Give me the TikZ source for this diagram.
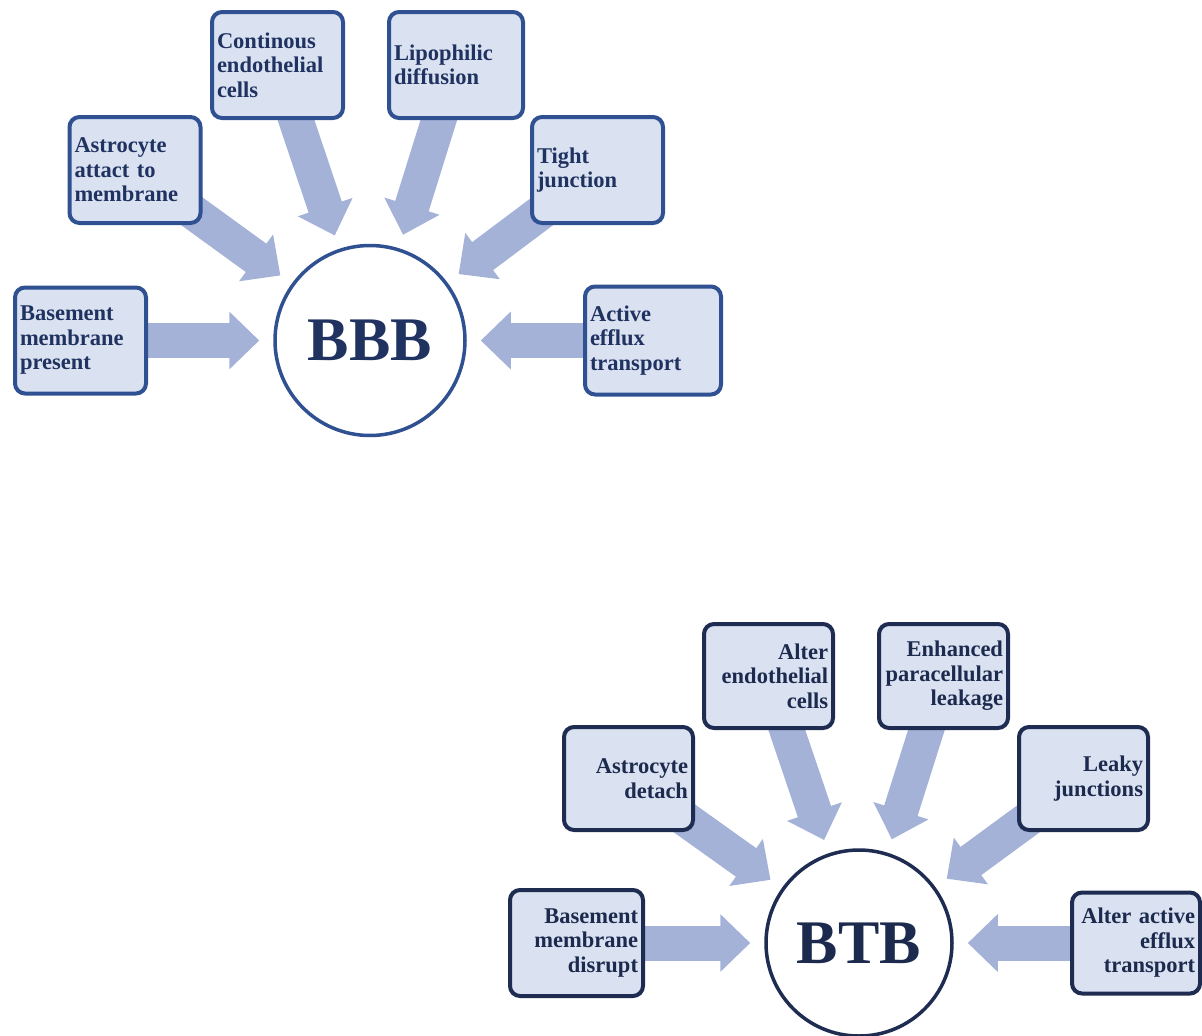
\documentclass[tikz,border=0pt]{standalone}
\usepackage{fontspec}
\setmainfont{Liberation Serif}
\usetikzlibrary{arrows.meta,backgrounds}
\definecolor{boxfill}{HTML}{DAE2F2}
\definecolor{bbbline}{HTML}{2F5091}
\definecolor{btbline}{HTML}{1E2C52}
\definecolor{txt}{HTML}{1F3260}
\definecolor{txtdark}{HTML}{1C2A4E}
\definecolor{arr}{HTML}{A4B2D8}
\begin{document}
\begin{tikzpicture}[x=1pt,y=-1pt,
  lbox/.style={draw=bbbline, fill=boxfill, line width=4pt, rounded corners=10pt,
    minimum height=106pt, text width=121pt, inner xsep=5pt, inner ysep=0pt, align=left,
    font=\fontsize{22.5}{24.5}\selectfont\bfseries, text=txt},
  rbox/.style={lbox, draw=btbline, align=right, text=txtdark},
  hub/.style={circle, draw=bbbline, fill=white, line width=3.5pt, minimum size=190pt,
    inner sep=0pt, font=\fontsize{62}{70}\selectfont\bfseries, text=txt},
  flow/.style={draw=arr, line width=35pt, -{Triangle[width=56pt,length=30pt]}, shorten >=14pt}
]
\useasboundingbox (0,0) rectangle (1202,1036);

% ---------- BBB ----------
\node[hub] (bbb) at (370,340.5) {BBB};
\node[lbox] (b1) at (80.5,340.5) {Basement\\membrane\\present};
\node[lbox] (b2) at (135,170) {Astrocyte\\attact to\\membrane};
\node[lbox] (b3) at (277.5,65) {Continous\\endothelial\\cells};
\node[lbox, text width=124pt] (b4) at (456,65) {Lipophilic\\diffusion};
\node[lbox] (b5) at (597.5,170) {Tight\\junction};
\node[lbox, text width=126pt, minimum height=108pt] (b6) at (653,340.5) {Active\\efflux\\transport};

% ---------- BTB ----------
\node[hub, draw=btbline, text=txtdark, minimum size=186pt] (btb) at (859,943) {BTB};
\node[rbox, text width=123pt] (t1) at (576.5,943) {Basement\\membrane\\disrupt};
\node[rbox, text width=119pt, minimum height=103pt] (t2) at (628.5,778.5) {Astrocyte\\detach};
\node[rbox, text width=119pt, minimum height=104pt] (t3) at (768.5,676) {Alter\\endothelial\\cells};
\node[rbox, text width=119pt, minimum height=104pt] (t4) at (943.5,676) {Enhanced\\paracellular\\leakage};
\node[rbox, text width=119pt, minimum height=103pt] (t5) at (1083.5,778.5) {Leaky\\junctions};
\node[rbox, text width=118pt, minimum height=101pt] (t6) at (1136,943) {Alter active\\efflux\\transport};

\begin{scope}[on background layer]
  \foreach \s in {b1,b2,b3,b4,b5,b6}
    \draw[flow] (\s.center) -- (bbb);
  \foreach \s in {t1,t2,t3,t4,t5,t6}
    \draw[flow] (\s.center) -- (btb);
\end{scope}
\end{tikzpicture}
\end{document}
